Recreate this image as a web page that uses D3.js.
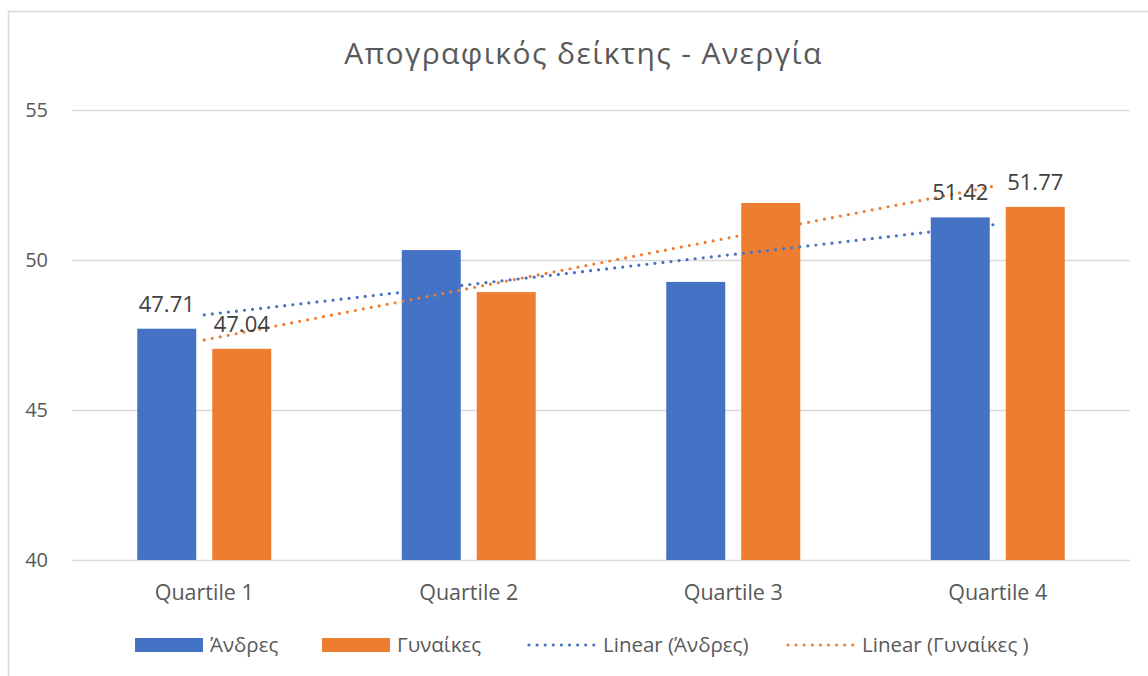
<!DOCTYPE html>
<html>
<head>
<meta charset="utf-8">
<script src="https://cdn.jsdelivr.net/npm/d3@7"></script>
<style>
  html, body { margin: 0; padding: 0; background: #fff; }
  svg { display: block; font-family: "Open Sans", sans-serif; }
</style>
</head>
<body>
<svg id="chart" width="1148" height="676"></svg>
<script>
const title = "Απογραφικός δείκτης - Ανεργία";
const categories = ["Quartile 1", "Quartile 2", "Quartile 3", "Quartile 4"];
const seriesNames = ["Άνδρες", "Γυναίκες"];
const andres = [47.71, 50.33, 49.27, 51.42];
const gynaikes = [47.04, 48.93, 51.90, 51.77];
const yTicks = [40, 45, 50, 55];
const labelledCategories = ["Quartile 1", "Quartile 4"];
const legendLabels = ["Άνδρες", "Γυναίκες", "Linear (Άνδρες)", "Linear (Γυναίκες )"];

const colors = ["#4472C4", "#ED7D31"];
const textColor = "#595959";
const gridColor = "#D9D9D9";

const svg = d3.select("#chart");
const W = 1148, H = 676;
const plot = { left: 72, right: 1130, top: 110, bottom: 560 };

// chart border
svg.append("rect").attr("x", 8.5).attr("y", 11.5).attr("width", W + 20).attr("height", H + 20)
  .attr("fill", "#fff").attr("stroke", gridColor).attr("stroke-width", 1.5);

const x = d3.scaleBand().domain(categories).range([plot.left, plot.right]);
const y = d3.scaleLinear().domain([40, 55]).range([plot.bottom, plot.top]);

// gridlines
svg.append("g").selectAll("line").data(yTicks).join("line")
  .attr("x1", plot.left).attr("x2", plot.right)
  .attr("y1", d => Math.round(y(d)) + 0.5).attr("y2", d => Math.round(y(d)) + 0.5)
  .attr("stroke", gridColor).attr("stroke-width", 1.5);

// y axis labels
const yAxis = d3.axisLeft(y).tickValues(yTicks).tickSize(0).tickPadding(0);
const gy = svg.append("g").attr("transform", `translate(48,0)`).call(yAxis);
gy.select(".domain").remove();
gy.selectAll("text").attr("fill", textColor).style("font-size", "20px")
  .style("font-family", "'Open Sans', sans-serif");

// bars
const barW = 59, gap = 16;
const series = [andres, gynaikes];
series.forEach((vals, si) => {
  const g = svg.append("g");
  g.selectAll("rect").data(categories).join("rect")
    .attr("x", (c) => {
      const cx = x(c) + x.bandwidth() / 2;
      return si === 0 ? cx - gap / 2 - barW : cx + gap / 2;
    })
    .attr("y", (c, i) => y(vals[i]))
    .attr("width", barW)
    .attr("height", (c, i) => y(40) - y(vals[i]))
    .attr("fill", colors[si]);
});

// trendlines (least squares over category index)
function linreg(vals) {
  const xs = vals.map((v, i) => i + 1);
  const mx = d3.mean(xs), my = d3.mean(vals);
  let sxy = 0, sxx = 0;
  xs.forEach((xi, i) => { sxy += (xi - mx) * (vals[i] - my); sxx += (xi - mx) ** 2; });
  const b = sxy / sxx, a = my - b * mx;
  return t => a + b * t;
}
series.forEach((vals, si) => {
  const f = linreg(vals);
  const c0 = categories[0], c1 = categories[categories.length - 1];
  svg.append("line")
    .attr("x1", x(c0) + x.bandwidth() / 2).attr("y1", y(f(1)))
    .attr("x2", x(c1) + x.bandwidth() / 2).attr("y2", y(f(categories.length)))
    .attr("stroke", colors[si]).attr("stroke-width", 3.2)
    .attr("stroke-linecap", "round").attr("stroke-dasharray", "0 8.1");
});

// data labels
series.forEach((vals, si) => {
  svg.append("g").selectAll("text")
    .data(categories.map((c, i) => ({ c, v: vals[i] })).filter(d => labelledCategories.includes(d.c)))
    .join("text")
    .attr("x", d => {
      const cx = x(d.c) + x.bandwidth() / 2;
      return si === 0 ? cx - gap / 2 - barW / 2 : cx + gap / 2 + barW / 2;
    })
    .attr("y", d => y(d.v) - 17)
    .attr("text-anchor", "middle")
    .attr("fill", "#404040")
    .style("font-size", "22px")
    .text(d => d.v.toFixed(2));
});

// x axis labels
svg.append("g").selectAll("text").data(categories).join("text")
  .attr("x", c => x(c) + x.bandwidth() / 2)
  .attr("y", 600)
  .attr("text-anchor", "middle")
  .attr("fill", textColor)
  .style("font-size", "21.5px")
  .text(c => c);

// title
svg.append("text").attr("x", 583.5).attr("y", 64).attr("text-anchor", "middle")
  .attr("fill", textColor).style("font-size", "30px").style("letter-spacing", "1.4px").text(title);

// legend
const leg = svg.append("g");
const legItems = [
  { type: "rect", color: colors[0], x: 135, label: legendLabels[0] },
  { type: "rect", color: colors[1], x: 322, label: legendLabels[1] },
  { type: "line", color: colors[0], x: 528, label: legendLabels[2] },
  { type: "line", color: colors[1], x: 787, label: legendLabels[3] }
];
legItems.forEach(it => {
  if (it.type === "rect") {
    leg.append("rect").attr("x", it.x).attr("y", 638).attr("width", 68).attr("height", 14).attr("fill", it.color);
  } else {
    leg.append("line").attr("x1", it.x + 1).attr("x2", it.x + 66).attr("y1", 645).attr("y2", 645)
      .attr("stroke", it.color).attr("stroke-width", 3.2)
      .attr("stroke-linecap", "round").attr("stroke-dasharray", "0 8.1");
  }
  leg.append("text").attr("x", it.x + 75).attr("y", 652)
    .attr("fill", textColor).style("font-size", "20.5px").text(it.label);
});
</script>
</body>
</html>
